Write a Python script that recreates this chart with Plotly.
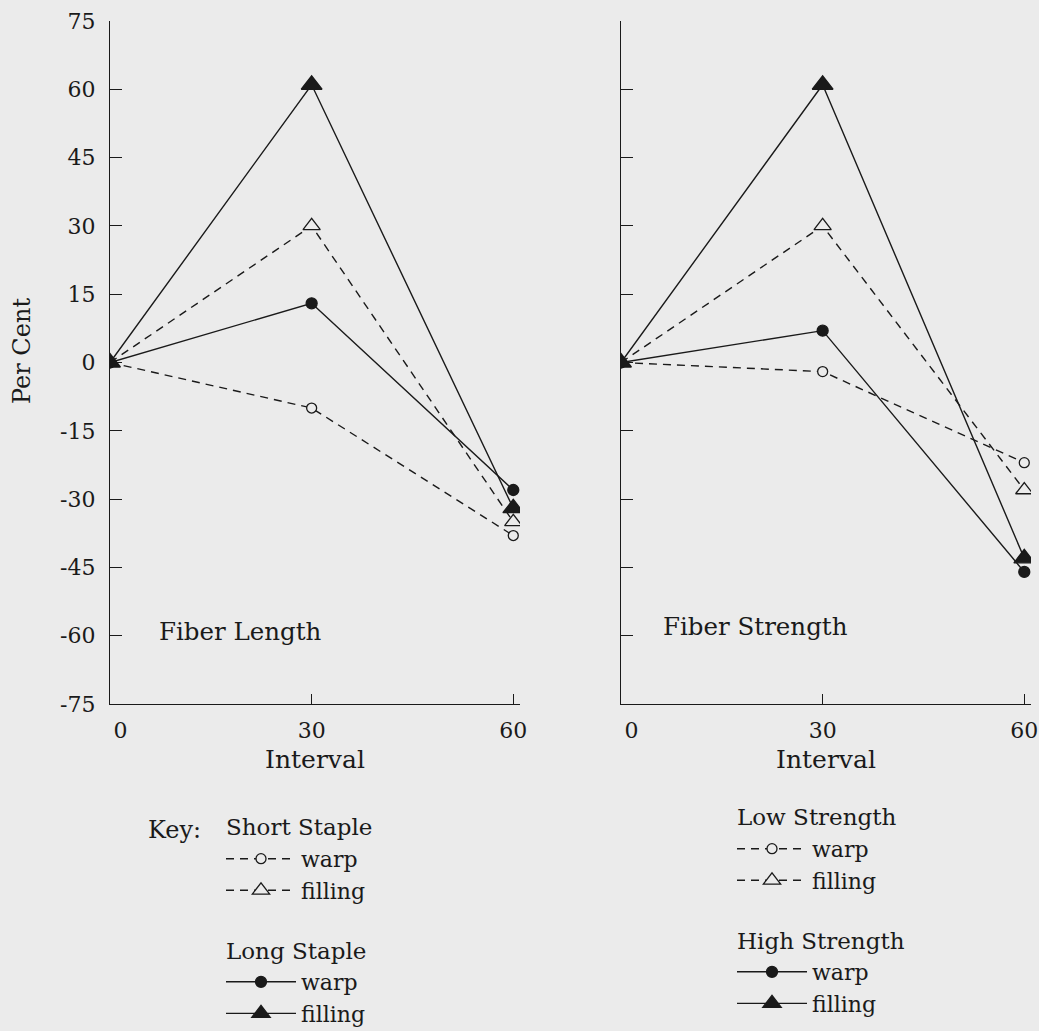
import plotly.graph_objects as go

intervals = [0, 30, 60]

# Fiber Length panel
short_warp = [0, -10, -38]
short_filling = [0, 30, -35]
long_warp = [0, 13, -28]
long_filling = [0, 61, -32]

# Fiber Strength panel
low_warp = [0, -2, -22]
low_filling = [0, 30, -28]
high_warp = [0, 7, -46]
high_filling = [0, 61, -43]

y_ticks = [75, 60, 45, 30, 15, 0, -15, -30, -45, -60, -75]
y_tick_text = ["75", "60", "45", "30", "15", "0", "-15", "-30", "-45", "-60", "-75"]
x_ticks = [0, 30, 60]
x_tick_text = ["\u2007\u00a00", "30", "60"]

BG = "#ebebeb"
INK = "#1a1a1a"
FONT = "DejaVu Serif"

fig = go.Figure()

def add(xa, ya, y, name, dashed, symbol, filled, legend, group, gtitle, size):
    fig.add_trace(go.Scatter(
        x=intervals, y=y, xaxis=xa, yaxis=ya, name=name,
        mode="lines+markers",
        line=dict(color=INK, width=1.4, dash="8px,6px" if dashed else "solid"),
        marker=dict(symbol=symbol, size=size,
                    color=INK if filled else BG,
                    line=dict(color=INK, width=1.3)),
        legend=legend, legendgroup=group,
        legendgrouptitle=dict(text=gtitle, font=dict(family=FONT, size=23, color=INK)),
    ))

add("x", "y", short_warp, "warp", True, "circle", False, "legend", "short", "Short Staple", 10)
add("x", "y", short_filling, "filling", True, "triangle-up", False, "legend", "short", "Short Staple", 15)
add("x", "y", long_warp, "warp", False, "circle", True, "legend", "long", "Long Staple", 11)
add("x", "y", long_filling, "filling", False, "triangle-up", True, "legend", "long", "Long Staple", 18)

add("x2", "y2", low_warp, "warp", True, "circle", False, "legend2", "low", "Low Strength", 10)
add("x2", "y2", low_filling, "filling", True, "triangle-up", False, "legend2", "low", "Low Strength", 15)
add("x2", "y2", high_warp, "warp", False, "circle", True, "legend2", "high", "High Strength", 11)
add("x2", "y2", high_filling, "filling", False, "triangle-up", True, "legend2", "high", "High Strength", 18)

W, H = 1039, 1031
ydom = [(H - 704) / H, (H - 21) / H]

axis_common = dict(
    showgrid=False, zeroline=False, showline=True, linecolor=INK, linewidth=1.4,
    tickcolor=INK, tickwidth=1.4, automargin=False,
    tickfont=dict(family=FONT, size=22, color=INK),
)

fig.update_layout(
    width=W, height=H,
    margin=dict(l=0, r=0, t=0, b=0, autoexpand=False),
    paper_bgcolor=BG, plot_bgcolor=BG,
    font=dict(family=FONT, size=22, color=INK),
    xaxis=dict(domain=[110 / W, 520 / W], range=[0, 61], tickvals=x_ticks, ticktext=x_tick_text,
               ticks="inside", ticklen=10, anchor="y", ticklabelstandoff=6,
               title=dict(text="Interval", font=dict(family=FONT, size=25), standoff=8),
               **axis_common),
    yaxis=dict(domain=ydom, range=[-75, 75], tickvals=y_ticks, ticktext=y_tick_text,
               ticks="inside", ticklen=12, anchor="x", ticklabelstandoff=9,
               **axis_common),
    xaxis2=dict(domain=[621 / W, 1031 / W], range=[0, 61], tickvals=x_ticks, ticktext=x_tick_text,
                ticks="inside", ticklen=10, anchor="y2", ticklabelstandoff=6,
                title=dict(text="Interval", font=dict(family=FONT, size=25), standoff=8),
                **axis_common),
    yaxis2=dict(domain=ydom, range=[-75, 75], tickvals=y_ticks, ticks="inside", ticklen=12,
                showticklabels=False, anchor="x2", **axis_common),
    legend=dict(xref="container", yref="container", x=221 / W, y=1 - 805 / H,
                xanchor="left", yanchor="top",
                bgcolor="rgba(0,0,0,0)", traceorder="grouped", tracegroupgap=27,
                font=dict(family=FONT, size=22, color=INK), itemwidth=70),
    legend2=dict(xref="container", yref="container", x=732 / W, y=1 - 795 / H,
                 xanchor="left", yanchor="top",
                 bgcolor="rgba(0,0,0,0)", traceorder="grouped", tracegroupgap=27,
                 font=dict(family=FONT, size=22, color=INK), itemwidth=70),
    annotations=[
        dict(text="Per Cent", xref="paper", yref="paper", x=22 / W, y=1 - 351 / H,
             xanchor="center", yanchor="middle", textangle=-90, showarrow=False,
             font=dict(family=FONT, size=24, color=INK)),
        dict(text="Key:", xref="paper", yref="paper", x=146 / W, y=1 - 830 / H,
             xanchor="left", yanchor="middle", showarrow=False,
             font=dict(family=FONT, size=24, color=INK)),
        dict(text="Fiber Length", xref="x", yref="y", x=7, y=-59,
             xanchor="left", yanchor="middle", showarrow=False,
             font=dict(family=FONT, size=24.5, color=INK)),
        dict(text="Fiber Strength", xref="x2", yref="y2", x=6, y=-58,
             xanchor="left", yanchor="middle", showarrow=False,
             font=dict(family=FONT, size=24.5, color=INK)),
    ],
)

page_style = ("document.body.style.margin='0';"
              "document.body.style.background='#ebebeb';"
              "document.documentElement.style.background='#ebebeb';")

fig.write_html("out.html", post_script=page_style, config={"displayModeBar": False})
